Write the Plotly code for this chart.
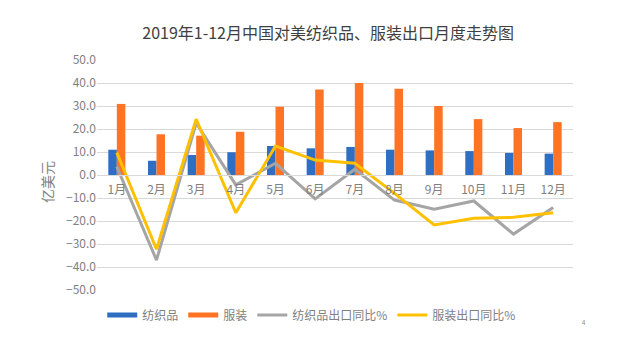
import plotly.graph_objects as go

months = ["1月", "2月", "3月", "4月", "5月", "6月", "7月", "8月", "9月", "10月", "11月", "12月"]
textile = [11.0, 6.2, 8.7, 9.9, 12.6, 11.6, 12.2, 11.0, 10.7, 10.4, 9.6, 9.3]
apparel = [30.9, 17.7, 17.1, 18.8, 29.7, 37.2, 40.0, 37.5, 30.0, 24.3, 20.4, 23.0]
textile_yoy = [3.6, -37.0, 22.6, -4.3, 5.1, -10.4, 2.5, -10.9, -14.9, -11.3, -25.7, -14.1]
apparel_yoy = [9.7, -32.3, 24.3, -16.4, 12.6, 6.5, 5.1, -8.0, -21.7, -18.8, -18.4, -16.4]
y_ticks = [50, 40, 30, 20, 10, 0, -10, -20, -30, -40, -50]

font = "Noto Sans CJK SC"
c_tex, c_app, c_tyoy, c_ayoy = "#2E6FC4", "#FF7424", "#A5A5A5", "#FFC000"

fig = go.Figure()
fig.add_bar(x=months, y=textile, name="纺织品", marker=dict(color=c_tex, line=dict(width=0)),
            showlegend=False, legendgroup="t")
fig.add_bar(x=months, y=apparel, name="服装", marker=dict(color=c_app, line=dict(width=0)),
            showlegend=False, legendgroup="a")
# legend-only entries drawn as wide swatches like the original
fig.add_scatter(x=[months[0]], y=[None], name="纺织品", mode="lines",
                line=dict(color=c_tex, width=5), legendgroup="t")
fig.add_scatter(x=[months[0]], y=[None], name="服装", mode="lines",
                line=dict(color=c_app, width=5), legendgroup="a")
fig.add_scatter(x=months, y=textile_yoy, name="纺织品出口同比%", mode="lines",
                line=dict(color=c_tyoy, width=3))
fig.add_scatter(x=months, y=apparel_yoy, name="服装出口同比%", mode="lines",
                line=dict(color=c_ayoy, width=3))

fig.update_layout(
    width=618, height=351,
    margin=dict(l=89, r=53, t=52, b=69),
    paper_bgcolor="white", plot_bgcolor="white",
    font=dict(family=font, color="#7F7F7F", size=12),
    barmode="group", bargap=0.57, bargroupgap=0,
    title=dict(text="2019年1-12月中国对美纺织品、服装出口月度走势图",
               x=0.518, xanchor="center", y=0.929, yanchor="middle",
               font=dict(family=font, size=16, color="#404040")),
    legend=dict(orientation="h", x=0.011, xanchor="left", y=-0.109, yanchor="middle",
                font=dict(size=12, color="#7F7F7F"), itemwidth=30,
                traceorder="normal", bgcolor="rgba(0,0,0,0)"),
    showlegend=True,
    xaxis=dict(anchor="free", position=0.5, showline=True, linecolor="#D9D9D9",
               linewidth=1, ticks="", showgrid=False, ticklabelstandoff=4,
               tickfont=dict(size=12, color="#7F7F7F")),
    yaxis=dict(range=[-50, 50], tickvals=y_ticks, tickformat=".1f",
               showgrid=True, gridcolor="#D9D9D9", gridwidth=1, zeroline=False,
               ticks="", tickfont=dict(size=12, color="#7F7F7F")),
)
fig.add_annotation(text="亿美元", x=(39 - 89) / 476, y=0.47, xref="paper", yref="paper",
                   textangle=-90, showarrow=False, xanchor="center", yanchor="middle",
                   font=dict(size=14, color="#7F7F7F"))
fig.add_annotation(text="4", x=(580 - 89) / 476, y=(282 - 321) / 230,
                   xref="paper", yref="paper", showarrow=False,
                   font=dict(size=6, color="#7F7F7F"))

fig.write_html("out.html")
